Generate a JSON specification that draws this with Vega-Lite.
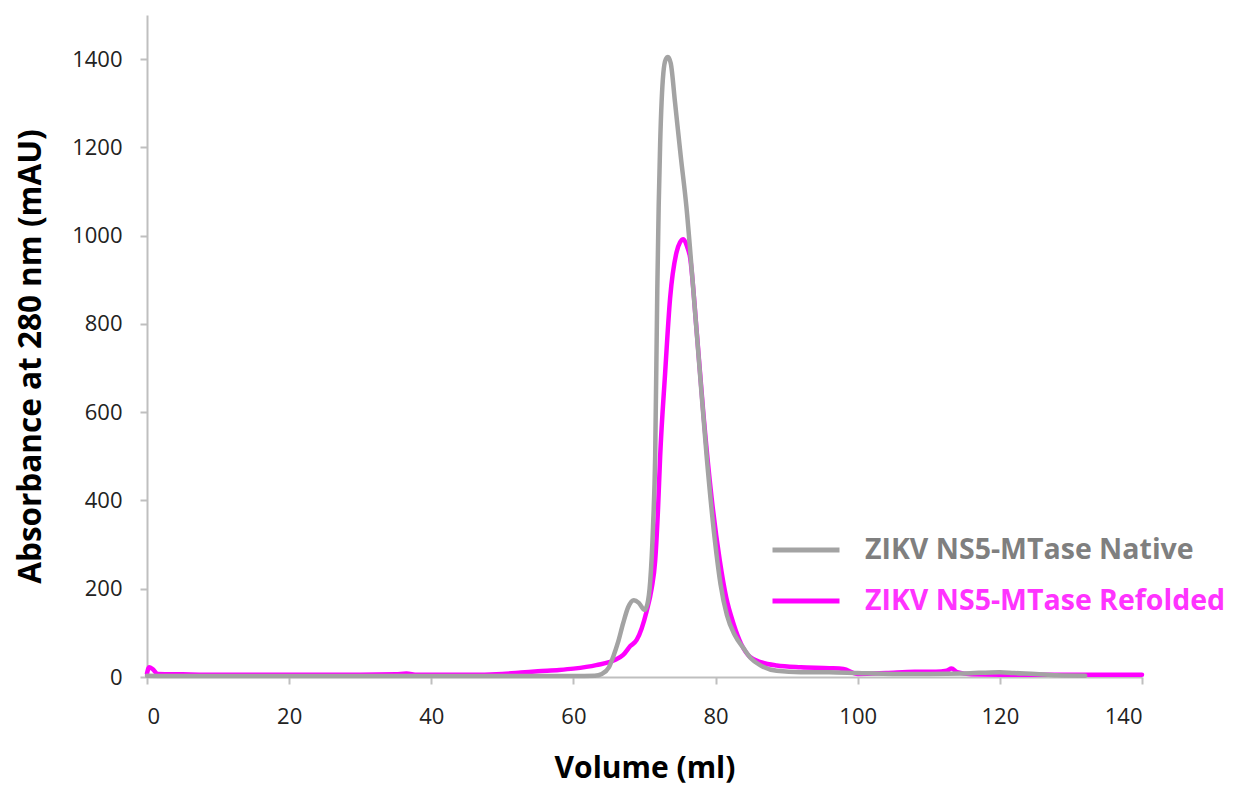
{
  "$schema": "https://vega.github.io/schema/vega-lite/v6.json",
  "autosize": {"type": "none"},
  "padding": {"left": 147, "top": 15, "right": 95, "bottom": 111},
  "width": 995,
  "height": 662,
  "background": "white",
  "config": {"view": {"stroke": null}, "font": "Open Sans"},
  "data": {"values": [
    {"s":"ZIKV NS5-MTase Refolded","v":0,"a":8},{"s":"ZIKV NS5-MTase Refolded","v":0.3,"a":22},{"s":"ZIKV NS5-MTase Refolded","v":0.8,"a":18},{"s":"ZIKV NS5-MTase Refolded","v":1.5,"a":7},{"s":"ZIKV NS5-MTase Refolded","v":5,"a":6},{"s":"ZIKV NS5-MTase Refolded","v":10,"a":5},{"s":"ZIKV NS5-MTase Refolded","v":20,"a":5},{"s":"ZIKV NS5-MTase Refolded","v":30,"a":5},{"s":"ZIKV NS5-MTase Refolded","v":35,"a":6},{"s":"ZIKV NS5-MTase Refolded","v":36.5,"a":8},{"s":"ZIKV NS5-MTase Refolded","v":38,"a":5},{"s":"ZIKV NS5-MTase Refolded","v":45,"a":5},{"s":"ZIKV NS5-MTase Refolded","v":50,"a":7},{"s":"ZIKV NS5-MTase Refolded","v":52.6,"a":10},{"s":"ZIKV NS5-MTase Refolded","v":55,"a":13},{"s":"ZIKV NS5-MTase Refolded","v":58,"a":16},{"s":"ZIKV NS5-MTase Refolded","v":60,"a":19},{"s":"ZIKV NS5-MTase Refolded","v":63.2,"a":27},{"s":"ZIKV NS5-MTase Refolded","v":65.9,"a":39},{"s":"ZIKV NS5-MTase Refolded","v":67,"a":50},{"s":"ZIKV NS5-MTase Refolded","v":68,"a":70},{"s":"ZIKV NS5-MTase Refolded","v":68.9,"a":84},{"s":"ZIKV NS5-MTase Refolded","v":69.6,"a":110},{"s":"ZIKV NS5-MTase Refolded","v":70.3,"a":149},{"s":"ZIKV NS5-MTase Refolded","v":71.0,"a":200},{"s":"ZIKV NS5-MTase Refolded","v":71.5,"a":263},{"s":"ZIKV NS5-MTase Refolded","v":71.9,"a":380},{"s":"ZIKV NS5-MTase Refolded","v":72.2,"a":499},{"s":"ZIKV NS5-MTase Refolded","v":72.9,"a":688},{"s":"ZIKV NS5-MTase Refolded","v":73.6,"a":858},{"s":"ZIKV NS5-MTase Refolded","v":74.5,"a":962},{"s":"ZIKV NS5-MTase Refolded","v":75.0,"a":985},{"s":"ZIKV NS5-MTase Refolded","v":75.47,"a":992},{"s":"ZIKV NS5-MTase Refolded","v":76.0,"a":975},{"s":"ZIKV NS5-MTase Refolded","v":76.4,"a":952},{"s":"ZIKV NS5-MTase Refolded","v":77.35,"a":782},{"s":"ZIKV NS5-MTase Refolded","v":78.3,"a":594},{"s":"ZIKV NS5-MTase Refolded","v":79.45,"a":405},{"s":"ZIKV NS5-MTase Refolded","v":80.6,"a":263},{"s":"ZIKV NS5-MTase Refolded","v":81.5,"a":180},{"s":"ZIKV NS5-MTase Refolded","v":82.5,"a":122},{"s":"ZIKV NS5-MTase Refolded","v":83.6,"a":75},{"s":"ZIKV NS5-MTase Refolded","v":84.8,"a":46},{"s":"ZIKV NS5-MTase Refolded","v":86.5,"a":33},{"s":"ZIKV NS5-MTase Refolded","v":88.6,"a":26},{"s":"ZIKV NS5-MTase Refolded","v":92,"a":22},{"s":"ZIKV NS5-MTase Refolded","v":96,"a":20},{"s":"ZIKV NS5-MTase Refolded","v":98,"a":18},{"s":"ZIKV NS5-MTase Refolded","v":100,"a":7},{"s":"ZIKV NS5-MTase Refolded","v":104,"a":9},{"s":"ZIKV NS5-MTase Refolded","v":108,"a":12},{"s":"ZIKV NS5-MTase Refolded","v":111,"a":12},{"s":"ZIKV NS5-MTase Refolded","v":112.5,"a":14},{"s":"ZIKV NS5-MTase Refolded","v":113.2,"a":19},{"s":"ZIKV NS5-MTase Refolded","v":114,"a":11},{"s":"ZIKV NS5-MTase Refolded","v":116,"a":6},{"s":"ZIKV NS5-MTase Refolded","v":120,"a":5},{"s":"ZIKV NS5-MTase Refolded","v":130,"a":5},{"s":"ZIKV NS5-MTase Refolded","v":140,"a":5},
    {"s":"ZIKV NS5-MTase Native","v":0,"a":3},{"s":"ZIKV NS5-MTase Native","v":5,"a":2},{"s":"ZIKV NS5-MTase Native","v":10,"a":2},{"s":"ZIKV NS5-MTase Native","v":20,"a":2},{"s":"ZIKV NS5-MTase Native","v":30,"a":2},{"s":"ZIKV NS5-MTase Native","v":40,"a":2},{"s":"ZIKV NS5-MTase Native","v":50,"a":2},{"s":"ZIKV NS5-MTase Native","v":60,"a":2},{"s":"ZIKV NS5-MTase Native","v":63,"a":3},{"s":"ZIKV NS5-MTase Native","v":64,"a":7},{"s":"ZIKV NS5-MTase Native","v":65,"a":22},{"s":"ZIKV NS5-MTase Native","v":65.6,"a":46},{"s":"ZIKV NS5-MTase Native","v":66.3,"a":80},{"s":"ZIKV NS5-MTase Native","v":67,"a":122},{"s":"ZIKV NS5-MTase Native","v":67.7,"a":158},{"s":"ZIKV NS5-MTase Native","v":68.5,"a":174},{"s":"ZIKV NS5-MTase Native","v":69.2,"a":168},{"s":"ZIKV NS5-MTase Native","v":70.0,"a":152},{"s":"ZIKV NS5-MTase Native","v":70.4,"a":165},{"s":"ZIKV NS5-MTase Native","v":70.8,"a":216},{"s":"ZIKV NS5-MTase Native","v":71.2,"a":340},{"s":"ZIKV NS5-MTase Native","v":71.5,"a":499},{"s":"ZIKV NS5-MTase Native","v":71.8,"a":877},{"s":"ZIKV NS5-MTase Native","v":72.0,"a":1070},{"s":"ZIKV NS5-MTase Native","v":72.2,"a":1207},{"s":"ZIKV NS5-MTase Native","v":72.65,"a":1368},{"s":"ZIKV NS5-MTase Native","v":73.0,"a":1400},{"s":"ZIKV NS5-MTase Native","v":73.3,"a":1405},{"s":"ZIKV NS5-MTase Native","v":73.7,"a":1390},{"s":"ZIKV NS5-MTase Native","v":74.3,"a":1301},{"s":"ZIKV NS5-MTase Native","v":75.1,"a":1180},{"s":"ZIKV NS5-MTase Native","v":75.9,"a":1065},{"s":"ZIKV NS5-MTase Native","v":76.87,"a":877},{"s":"ZIKV NS5-MTase Native","v":77.8,"a":688},{"s":"ZIKV NS5-MTase Native","v":78.75,"a":499},{"s":"ZIKV NS5-MTase Native","v":79.9,"a":310},{"s":"ZIKV NS5-MTase Native","v":80.7,"a":210},{"s":"ZIKV NS5-MTase Native","v":81.6,"a":140},{"s":"ZIKV NS5-MTase Native","v":82.7,"a":95},{"s":"ZIKV NS5-MTase Native","v":83.9,"a":66},{"s":"ZIKV NS5-MTase Native","v":85,"a":42},{"s":"ZIKV NS5-MTase Native","v":86.25,"a":27},{"s":"ZIKV NS5-MTase Native","v":88.6,"a":14},{"s":"ZIKV NS5-MTase Native","v":92,"a":11},{"s":"ZIKV NS5-MTase Native","v":96,"a":11},{"s":"ZIKV NS5-MTase Native","v":100,"a":9},{"s":"ZIKV NS5-MTase Native","v":105,"a":7},{"s":"ZIKV NS5-MTase Native","v":110,"a":7},{"s":"ZIKV NS5-MTase Native","v":115,"a":8},{"s":"ZIKV NS5-MTase Native","v":120,"a":11},{"s":"ZIKV NS5-MTase Native","v":122,"a":9},{"s":"ZIKV NS5-MTase Native","v":125,"a":7},{"s":"ZIKV NS5-MTase Native","v":128,"a":4},{"s":"ZIKV NS5-MTase Native","v":132,"a":3}
  ]},
  "mark": {"type": "line", "interpolate": "monotone", "strokeWidth": 4.5, "strokeCap": "round", "strokeJoin": "round"},
  "encoding": {
    "x": {"field": "v", "type": "quantitative", "scale": {"domain": [0, 140], "nice": false, "zero": false},
      "axis": {"values": [0,20,40,60,80,100,120,140], "title": "Volume (ml)", "grid": false, "format": "d",
        "domainColor": "#bfbfbf", "domainWidth": 2, "tickColor": "#bfbfbf", "tickWidth": 2, "tickSize": 7,
        "labelFontSize": 22, "labelColor": "#222", "labelPadding": 22, "labelFont": "Open Sans",
        "titleFontSize": 30, "titleFontWeight": "bold", "titleColor": "#000", "titlePadding": 26, "titleFont": "Open Sans"}},
    "y": {"field": "a", "type": "quantitative", "scale": {"domain": [0, 1500], "nice": false},
      "axis": {"values": [0,200,400,600,800,1000,1200,1400], "title": "Absorbance at 280 nm (mAU)", "grid": false, "format": "d",
        "domainColor": "#bfbfbf", "domainWidth": 2, "tickColor": "#bfbfbf", "tickWidth": 2, "tickSize": 7,
        "labelFontSize": 22, "labelColor": "#222", "labelPadding": 18, "labelFont": "Open Sans",
        "titleFontSize": 31.5, "titleFontWeight": "bold", "titleColor": "#000", "titlePadding": 24, "titleY": 341, "titleFont": "Open Sans"}},
    "color": {"field": "s", "type": "nominal",
      "scale": {"domain": ["ZIKV NS5-MTase Native", "ZIKV NS5-MTase Refolded"], "range": ["#a3a3a3", "#ff00ff"]},
      "legend": {"orient": "none", "legendX": 623, "legendY": 520, "title": null,
        "symbolType": "stroke", "symbolSize": 4489, "symbolStrokeWidth": 5, "clipHeight": 30, "rowPadding": 21,
        "labelFontSize": 28.5, "labelFontWeight": "bold", "labelFont": "Open Sans", "labelOffset": 23, "labelLimit": 600,
        "labelColor": {"expr": "datum.label == 'ZIKV NS5-MTase Native' ? '#7f7f7f' : '#ff33ff'"}}}
  }
}
